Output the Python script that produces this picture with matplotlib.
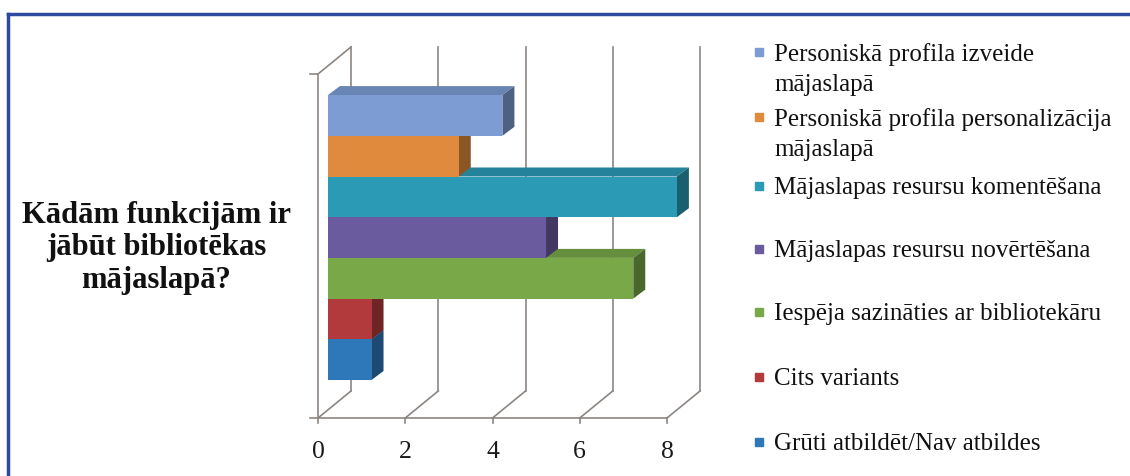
import matplotlib.pyplot as plt
from matplotlib.lines import Line2D
from matplotlib.patches import Polygon
from matplotlib.colors import to_rgb

# dati (no augšas uz leju, kā leģendā)
labels = [
    "Personiskā profila izveide\nmājaslapā",
    "Personiskā profila personalizācija\nmājaslapā",
    "Mājaslapas resursu komentēšana",
    "Mājaslapas resursu novērtēšana",
    "Iespēja sazināties ar bibliotekāru",
    "Cits variants",
    "Grūti atbildēt/Nav atbildes",
]
values = [4, 3, 8, 5, 7, 1, 1]
colors = ["#7C9CD3", "#E08A3D", "#2A9AB5", "#6A5A9E", "#78A848", "#B33A3C", "#2E77B8"]
x_ticks = [0, 2, 4, 6, 8]
title = "Kādām funkcijām ir\njābūt bibliotēkas\nmājaslapā?"

W, H = 1130, 477
SERIF = ["Liberation Serif", "DejaVu Serif"]
GRID = "#8C8682"

fig = plt.figure(figsize=(W / 100, H / 100), dpi=100)
fig.patch.set_facecolor("white")

# ass priekšējā plakne: 0..8 -> 318..667 px, grīda pie 419 px
px_x = 349 / 8
px_y = 40.7
ax = fig.add_axes([318 / W, 58 / H, 349 / W, 344 / H])
ax.set_xlim(0, 8)
top_y = 344 / px_y
ax.set_ylim(0, top_y)
ax.axis("off")

# 3D nobīdes
dx, dy = 33 / px_x, 27 / px_y          # pilns dziļums
bx0, by0 = 0.3 * dx, (419 - 381) / px_y  # stabiņu plakne
ddx, ddy = 12 / px_x, 9 / px_y          # stabiņa biezums

# sienas un režģis
for t in x_ticks:
    ax.plot([t, t + dx], [0, dy], color=GRID, lw=1.2, clip_on=False)
    ax.plot([t + dx, t + dx], [dy, top_y + dy], color=GRID, lw=1.2, clip_on=False)
    ax.plot([t, t], [0, -5 / px_y], color=GRID, lw=1.2, clip_on=False)
ax.plot([-8 / px_x, 8], [0, 0], color=GRID, lw=1.2, clip_on=False)
ax.plot([0, 0], [0, top_y], color=GRID, lw=1.2, clip_on=False)
ax.plot([-8 / px_x, 0, dx], [top_y, top_y, top_y + dy], color=GRID, lw=1.2, clip_on=False)

for t in x_ticks:
    ax.text(t, -33 / px_y, str(t), ha="center", va="center", fontsize=18.5,
            family=SERIF, color="#1a1a1a")


def shade(c, k):
    r, g, b = to_rgb(c)
    return (r * k, g * k, b * k)


# stabiņi no apakšas uz augšu
n = len(values)
for j in range(n):
    i = n - 1 - j
    v = values[i]
    c = colors[i]
    y0 = by0 + j
    y1 = y0 + 1
    x0 = bx0
    x1 = bx0 + v
    top = Polygon([(x0, y1), (x1, y1), (x1 + ddx, y1 + ddy), (x0 + ddx, y1 + ddy)],
                  closed=True, facecolor=shade(c, 0.85), edgecolor="none",
                  zorder=3 + j, clip_on=False)
    side = Polygon([(x1, y0), (x1, y1), (x1 + ddx, y1 + ddy), (x1 + ddx, y0 + ddy)],
                   closed=True, facecolor=shade(c, 0.62), edgecolor="none",
                   zorder=3 + j, clip_on=False)
    ax.add_patch(top)
    ax.add_patch(side)
    bars = ax.barh(y0 + 0.5, v, height=1, left=x0, color=c, edgecolor="none", zorder=3 + j)
    for b in bars:
        b.set_clip_on(False)

# virsraksts
fig.text(156 / W, 1 - 248 / H, title, ha="center", va="center", fontsize=22,
         fontweight="bold", family=SERIF, color="#111111", linespacing=1.15)

# leģenda
leg_y = [53, 118, 187, 250, 313, 378, 443]
for lab, c, yy in zip(labels, colors, leg_y):
    fig.add_artist(Line2D([759 / W], [1 - yy / H], marker="s", markersize=6,
                          color=c, transform=fig.transFigure, linestyle="none"))
    fig.text(774 / W, 1 - (yy - 10) / H, lab, ha="left", va="top", fontsize=18,
             family=SERIF, color="#111111", linespacing=1.45)

# zilā rāmja līnijas
fig.add_artist(Line2D([8 / W, 1], [1 - 15 / H, 1 - 15 / H], color="#2E4A9E", lw=2.5,
                      transform=fig.transFigure))
fig.add_artist(Line2D([8 / W, 8 / W], [0, 1 - 15 / H], color="#2E4A9E", lw=2.5,
                      transform=fig.transFigure))

fig.savefig("out.png", dpi=100)
